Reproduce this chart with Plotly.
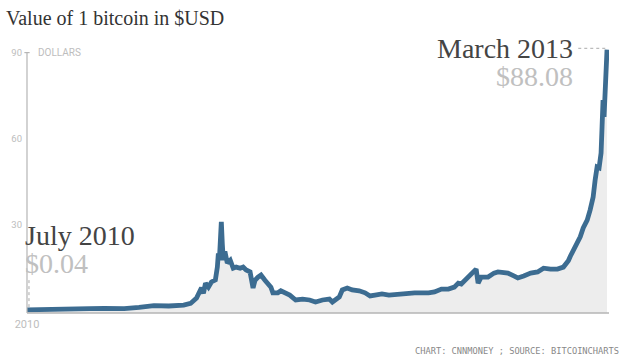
import plotly.graph_objects as go

# Position along the time axis (July 2010 = 0 ... March 2013 = 585)
time_pos = [0, 8, 23, 33, 48, 63, 78, 98, 113, 128, 143, 158, 165, 171, 176, 178, 180, 183,
            186, 190, 192, 193, 194, 195, 196, 197, 198, 199, 200, 202, 205, 208, 211, 215,
            218, 221, 225, 228, 230, 233, 236, 240, 243, 246, 248, 253, 256, 260, 265, 271,
            278, 285, 291, 298, 305, 308, 315, 318, 323, 328, 335, 341, 346, 351, 358, 365,
            378, 391, 405, 411, 418, 425, 431, 435, 438, 443, 448, 453, 455, 458, 465, 471,
            475, 481, 485, 491, 495, 501, 508, 515, 521, 528, 535, 541, 546, 548, 551, 555,
            558, 561, 565, 568, 571, 573, 575, 577, 579, 580, 581, 582, 583, 584, 585]
# Value of 1 bitcoin in USD
price_usd = [0.06, 0.07, 0.1, 0.1, 0.25, 0.5, 0.6, 0.5, 0.9, 1.5, 1.4, 1.7, 2.3, 4.2, 7.8,
             5.8, 9.4, 8.0, 9.8, 10.5, 15.0, 19.8, 17.4, 26.0, 30.8, 23.0, 17.4, 19.8, 19.8,
             16.4, 17.4, 14.6, 15.0, 14.6, 15.0, 14.0, 13.3, 7.7, 10.4, 11.5, 12.2, 10.4, 9.4,
             8.0, 6.0, 6.0, 6.7, 6.0, 5.2, 3.5, 3.8, 3.5, 2.8, 3.5, 3.8, 2.8, 4.6, 7.0, 7.7,
             7.0, 6.7, 6.0, 4.9, 5.2, 5.6, 5.2, 5.6, 6.0, 6.0, 6.3, 7.3, 7.3, 8.0, 9.4, 9.1,
             10.8, 12.2, 14.3, 9.4, 11.5, 11.5, 12.9, 13.3, 13.3, 12.9, 11.9, 11.2, 11.9, 12.9,
             13.3, 14.6, 14.3, 14.3, 15.0, 17.2, 18.8, 20.9, 23.0, 25.6, 28.7, 31.4, 35.0,
             39.5, 45.4, 50.0, 49.7, 54.9, 64.0, 73.4, 67.5, 77.0, 87.4, 91.0]

x_tick_vals = [0, 586]
x_tick_text = ["2010", "2013"]
y_tick_vals = [30, 60, 90]
y_tick_text = ["30", "60", "90"]

Y_MIN, Y_MAX = -1.05, 97.9
X_MIN, X_MAX = 0, 587

NARROW = "Liberation Sans Narrow, Roboto, sans-serif"
SERIF = "Liberation Serif, DejaVu Serif, serif"
LINE_COLOR = "#3c6c91"
GRAY = "#bdbdbd"

fig = go.Figure()
# baseline for the area fill
fig.add_trace(go.Scatter(x=[X_MIN, time_pos[-1]], y=[Y_MIN, Y_MIN], mode="lines",
                         line=dict(width=0), hoverinfo="skip", showlegend=False))
fig.add_trace(go.Scatter(x=time_pos, y=price_usd, mode="lines", fill="tonexty",
                         fillcolor="#ededed", line=dict(color=LINE_COLOR, width=4.8),
                         showlegend=False))

fig.update_layout(
    width=620, height=355,
    margin=dict(l=22, r=11, t=30, b=42),
    paper_bgcolor="white", plot_bgcolor="white",
    xaxis=dict(range=[X_MIN, X_MAX], showgrid=False, zeroline=False, showline=False,
               tickvals=x_tick_vals, ticktext=x_tick_text, ticks="",
               ticklabelstandoff=3,
               tickfont=dict(family=NARROW, size=11, color=GRAY)),
    yaxis=dict(range=[Y_MIN, Y_MAX], showgrid=False, zeroline=False, showline=False,
               tickvals=y_tick_vals, ticktext=y_tick_text, ticks="",
               ticklabelstandoff=4,
               tickfont=dict(family=NARROW, size=9.5, color=GRAY)),
)

shapes = [
    # bottom axis
    dict(type="line", xref="paper", yref="paper", x0=0, x1=1, y0=0, y1=0,
         line=dict(color="#b5b5b5", width=1.5)),
    # left axis up to 90
    dict(type="line", xref="paper", yref="y", x0=0, x1=0, y0=Y_MIN, y1=90,
         line=dict(color="#b5b5b5", width=1.2)),
    # T tick at 90
    dict(type="line", xref="paper", yref="y", x0=-0.0045, x1=0.0045, y0=90, y1=90,
         line=dict(color="#b5b5b5", width=1.2)),
    # dotted pointer July 2010
    dict(type="line", xref="x", yref="y", x0=2, x1=2, y0=1.0, y1=10.8,
         line=dict(color="#aaaaaa", width=1, dash="dot")),
    # dotted pointer March 2013
    dict(type="line", xref="x", yref="y", x0=556, x1=584, y0=91.5, y1=91.5,
         line=dict(color="#aaaaaa", width=1, dash="dot")),
]
fig.update_layout(shapes=shapes)

def px(xp):
    return (xp - 22) / 587

def py(yp):
    return (313 - yp) / 283

annotations = [
    dict(text="Value of 1 bitcoin in $USD", x=px(-1), y=py(18), xanchor="left", yanchor="middle",
         font=dict(family=SERIF, size=20, color="#333333")),
    dict(text="DOLLARS", x=px(31), y=py(52.5), xanchor="left", yanchor="middle",
         font=dict(family=NARROW, size=10, color=GRAY)),
    dict(text="July 2010", x=px(18), y=py(235.5), xanchor="left", yanchor="middle",
         font=dict(family=SERIF, size=28, color="#444444")),
    dict(text="$0.04", x=px(18), y=py(263.5), xanchor="left", yanchor="middle",
         font=dict(family=SERIF, size=28, color="#c0c0c0")),
    dict(text="March 2013", x=px(575), y=py(48.5), xanchor="right", yanchor="middle",
         font=dict(family=SERIF, size=28, color="#444444")),
    dict(text="$88.08", x=px(575), y=py(76.5), xanchor="right", yanchor="middle",
         font=dict(family=SERIF, size=28, color="#c0c0c0")),
    dict(text="CHART: CNNMONEY ; SOURCE: BITCOINCHARTS", x=px(621), y=py(351),
         xanchor="right", yanchor="middle",
         font=dict(family="DejaVu Sans Mono, monospace", size=8.7, color="#888888")),
]
for a in annotations:
    a.update(xref="paper", yref="paper", showarrow=False)
fig.update_layout(annotations=annotations)

fig.write_html("out.html")
